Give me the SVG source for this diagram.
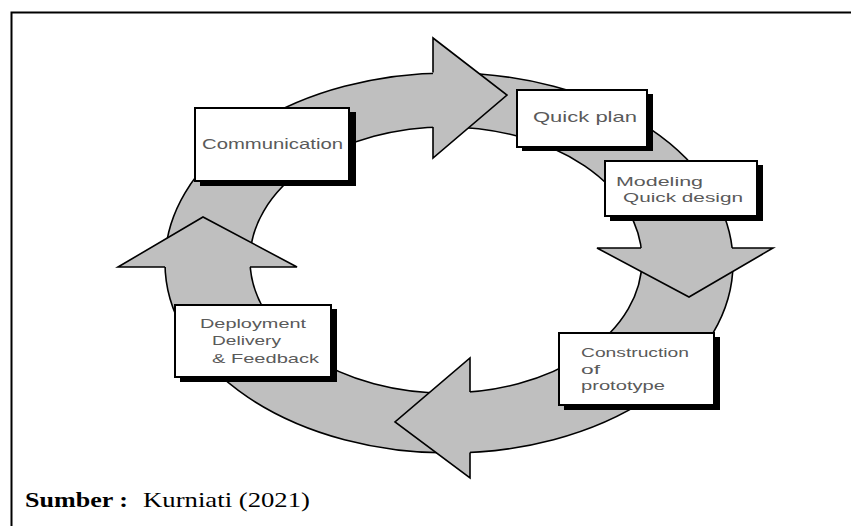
<svg xmlns="http://www.w3.org/2000/svg" width="851" height="526" viewBox="0 0 851 526">
<style>
.band{fill:#bfbfbf;stroke:#000;stroke-width:1.6;fill-rule:evenodd}
.head{fill:#bfbfbf;stroke:none}
.edge{fill:none;stroke:#000;stroke-width:1.6;stroke-linejoin:miter}
.shadow{fill:#000}
.box{fill:#fff;stroke:#000;stroke-width:2}
.lbl{font-family:"Liberation Sans",Arial,sans-serif;font-size:15px;fill:#5a5a5a}
.sm{font-size:13px}
.cap{font-family:"Liberation Serif","Times New Roman",serif;font-size:22px;fill:#000}
</style>
<rect x="11.5" y="12.5" width="860" height="540" fill="#fff" stroke="#000" stroke-width="2"/>
<g id="connectors">
<path class="band" d="M165,263 A284,190 0 1,0 733,263 A284,190 0 1,0 165,263 Z M250,260 A196,133 0 1,1 642,260 A196,133 0 1,1 250,260 Z"/>
<path class="head" d="M433,38 L507,95 L433,158 Z"/>
<path class="edge" d="M433,72.5 L433,38 L507,95 L433,158 L433,127"/>
<path class="head" d="M597,248 L689,297 L773,248 Z"/>
<path class="edge" d="M641,248 L597,248 L689,297 L773,248 L732,248"/>
<path class="head" d="M470,358 L395,422 L470,478 Z"/>
<path class="edge" d="M470,392 L470,358 L395,422 L470,478 L470,452.5"/>
<path class="head" d="M118,267 L203,217 L297,267 Z"/>
<path class="edge" d="M165,267 L118,267 L203,217 L297,267 L250,267"/>
</g>
<g id="communication">
<rect class="shadow" x="200" y="112" width="156" height="74"/>
<rect class="box" x="195" y="108" width="154" height="73"/>
<text class="lbl" x="202" y="149" textLength="141" lengthAdjust="spacingAndGlyphs">Communication</text>
</g>
<g id="quick-plan">
<rect class="shadow" x="522" y="94" width="131" height="57"/>
<rect class="box" x="517" y="90" width="130" height="57"/>
<text class="lbl" x="533" y="122" textLength="104" lengthAdjust="spacingAndGlyphs">Quick plan</text>
</g>
<g id="modeling">
<rect class="shadow" x="610" y="165" width="153" height="56"/>
<rect class="box" x="605" y="161" width="152" height="55"/>
<text class="lbl sm" x="616" y="186" textLength="87" lengthAdjust="spacingAndGlyphs">Modeling</text>
<text class="lbl sm" x="623" y="202" textLength="120" lengthAdjust="spacingAndGlyphs">Quick design</text>
</g>
<g id="construction">
<rect class="shadow" x="564" y="337" width="156" height="73"/>
<rect class="box" x="559" y="333" width="155" height="72"/>
<text class="lbl sm" x="581" y="357" textLength="108" lengthAdjust="spacingAndGlyphs">Construction</text>
<text class="lbl sm" x="581" y="374" textLength="19" lengthAdjust="spacingAndGlyphs">of</text>
<text class="lbl sm" x="581" y="390" textLength="84" lengthAdjust="spacingAndGlyphs">prototype</text>
</g>
<g id="deployment">
<rect class="shadow" x="180" y="309" width="157" height="73"/>
<rect class="box" x="175" y="305" width="156" height="72"/>
<text class="lbl sm" x="200" y="328" textLength="106" lengthAdjust="spacingAndGlyphs">Deployment</text>
<text class="lbl sm" x="212" y="345" textLength="69" lengthAdjust="spacingAndGlyphs">Delivery</text>
<text class="lbl sm" x="212" y="363" textLength="107" lengthAdjust="spacingAndGlyphs">&amp; Feedback</text>
</g>
<g id="caption">
<text class="cap" x="25" y="507" font-weight="bold" textLength="103" lengthAdjust="spacingAndGlyphs">Sumber :</text>
<text class="cap" x="143" y="507" textLength="167" lengthAdjust="spacingAndGlyphs">Kurniati (2021)</text>
</g>
</svg>
